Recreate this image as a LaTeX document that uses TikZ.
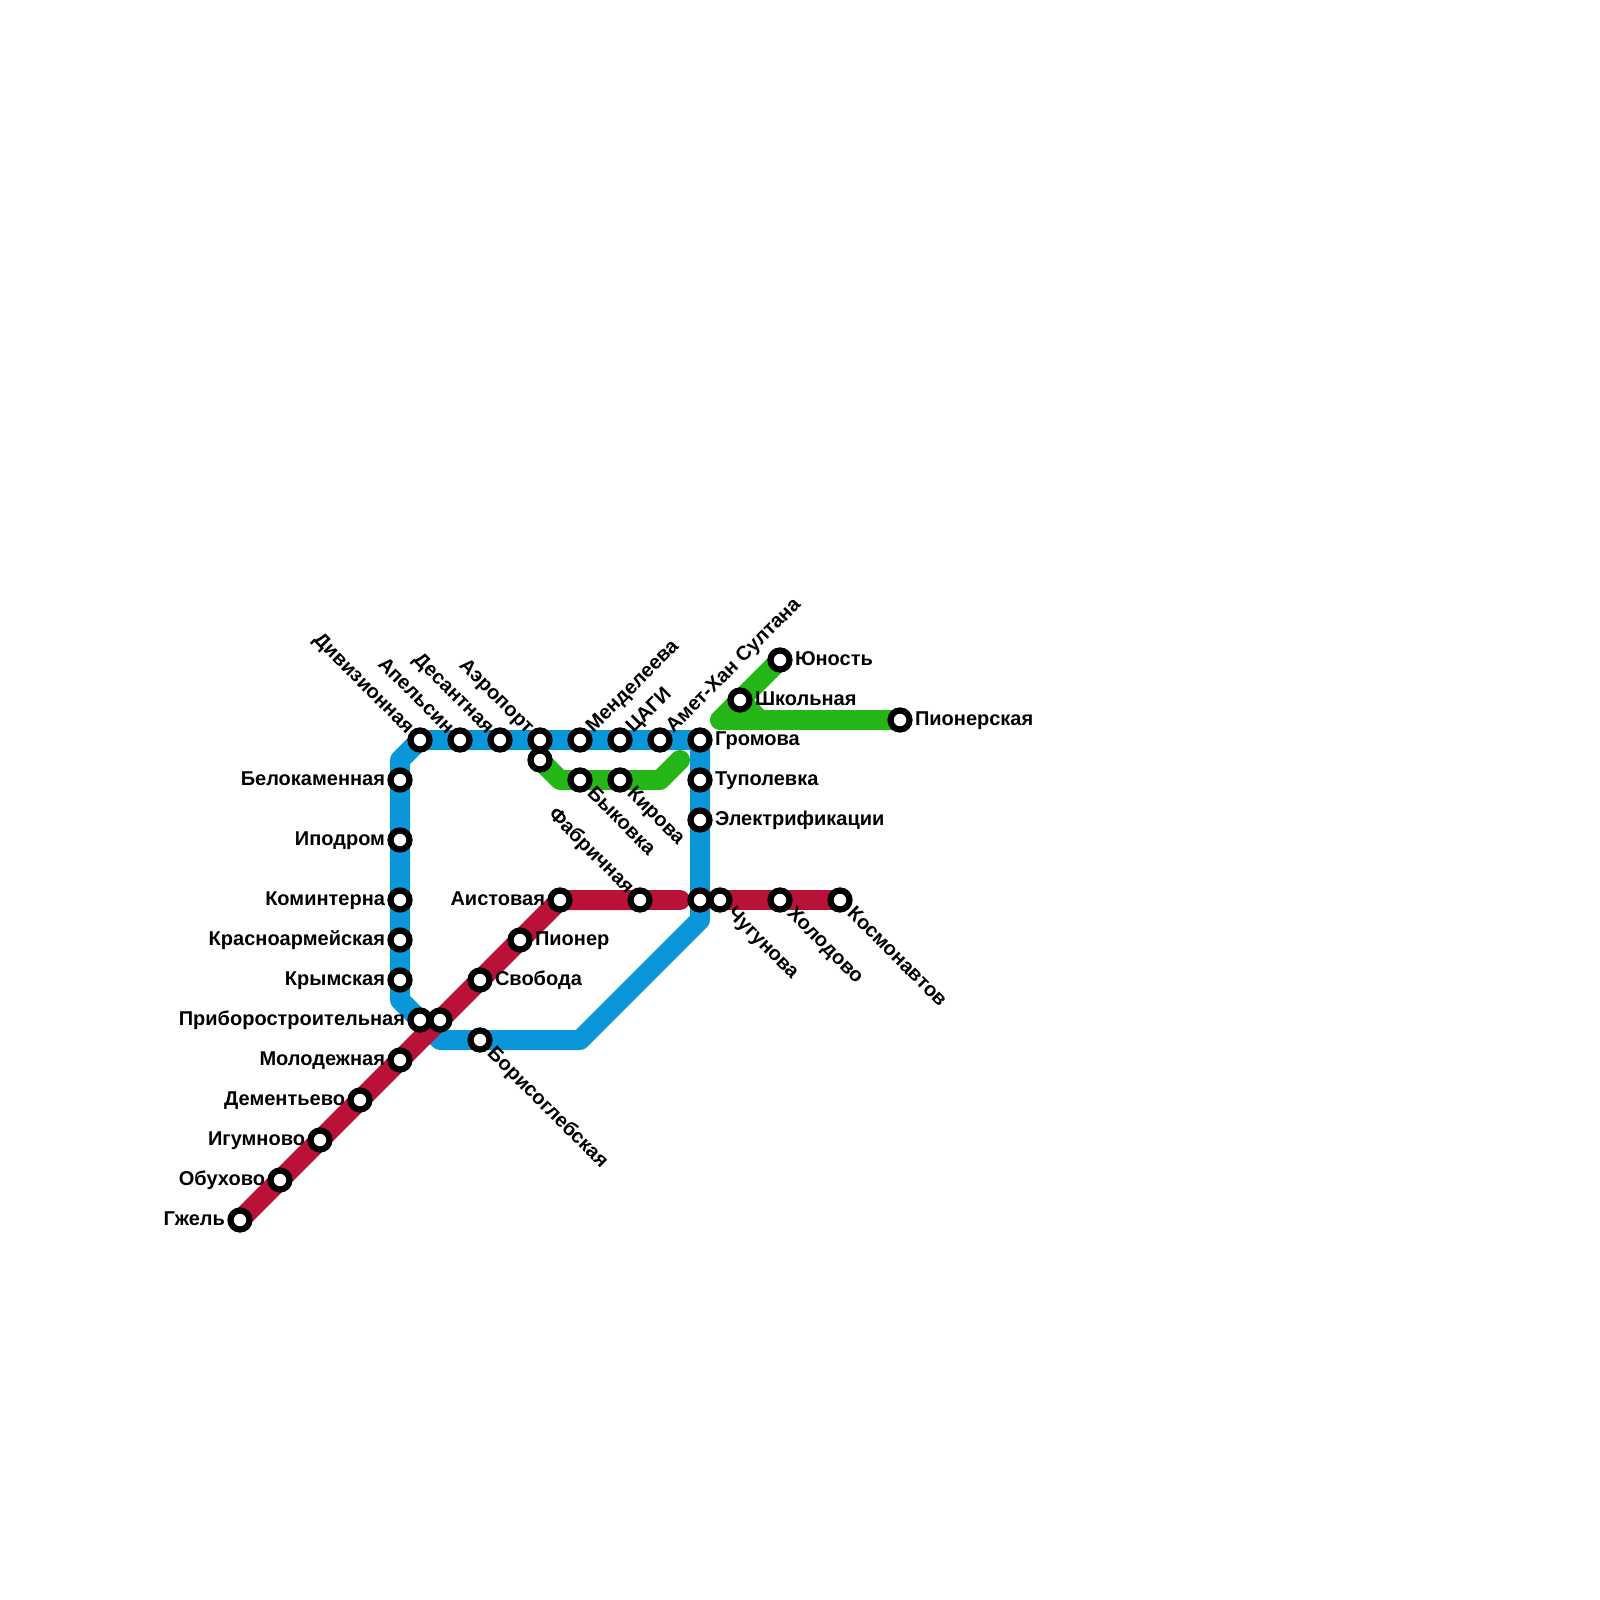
\documentclass[tikz,border=0pt]{standalone}
\usepackage{fontspec}
\setmainfont{Liberation Sans}
\usepackage{tikz}
\usetikzlibrary{backgrounds}
\definecolor{lineblue}{HTML}{0A96D8}
\definecolor{linered}{HTML}{BA1138}
\definecolor{linegreen}{HTML}{25B718}

\begin{document}
\begin{tikzpicture}[x=0.01cm, y=-0.01cm,
    station/.style={circle, draw=black, fill=white, line width=0.062cm, inner sep=0pt, outer sep=0pt, minimum size=0.19cm},
    txt/.style={inner sep=0pt, outer sep=0pt, text height=4.07pt, text depth=1.2pt, font=\fontsize{5.69pt}{6pt}\selectfont\bfseries, text=black},
    tube/.style={line width=0.2cm, line join=round}]
\useasboundingbox (0,0) rectangle (1600,1600);

% top of the blue line
\path (420,740) node[station] (divizionnaya) {};
\path (460,740) node[station] (apelsin) {};
\path (500,740) node[station] (desantnaya) {};
\path (540,740) node[station] (aeroport) {};
\path (580,740) node[station] (mendeleeva) {};
\path (620,740) node[station] (cagi) {};
\path (660,740) node[station] (amethan) {};
\path (700,740) node[station] (gromova) {};
\path (700,780) node[station] (tupolevka) {};
\path (700,820) node[station] (elektro) {};
\path (700,900) node[station] (hubeast) {};

% left of the blue line
\path (400,780) node[station] (belokamennaya) {};
\path (400,840) node[station] (ipodrom) {};
\path (400,900) node[station] (kominterna) {};
\path (400,940) node[station] (krasnoarm) {};
\path (400,980) node[station] (krymskaya) {};
\path (420,1020) node[station] (pribor) {};
\path (480,1040) node[station] (borisogleb) {};

% red line
\path (240,1220) node[station] (gzhel) {};
\path (280,1180) node[station] (obuhovo) {};
\path (320,1140) node[station] (igumnovo) {};
\path (360,1100) node[station] (dementevo) {};
\path (400,1060) node[station] (molodezhnaya) {};
\path (440,1020) node[station] (hubwest) {};
\path (480,980) node[station] (svoboda) {};
\path (520,940) node[station] (pioner) {};
\path (560,900) node[station] (aistovaya) {};
\path (640,900) node[station] (fabrichnaya) {};
\path (720,900) node[station] (chugunova) {};
\path (780,900) node[station] (holodovo) {};
\path (840,900) node[station] (kosmonavtov) {};

% green line
\path (540,760) node[station] (hubnorth) {};
\path (580,780) node[station] (bykovka) {};
\path (620,780) node[station] (kirova) {};
\path (780,660) node[station] (yunost) {};
\path (740,700) node[station] (shkolnaya) {};
\path (900,720) node[station] (pionerskaya) {};

% bends
\coordinate (blue a) at (400,760);
\coordinate (blue b) at (400,1000);
\coordinate (blue c) at (440,1040);
\coordinate (blue d) at (580,1040);
\coordinate (blue e) at (700,920);
\coordinate (green a) at (560,780);
\coordinate (green b) at (660,780);
\coordinate (green c) at (680,760);
\coordinate (green d) at (720,720);
\coordinate (green e) at (760,720);
\coordinate (red a) at (680,900);

\begin{pgfonlayer}{background}
\draw[tube, lineblue] (gromova.center) -- (divizionnaya.center) -- (blue a) -- (blue b) -- (blue c) -- (blue d) -- (blue e) -- cycle;
\draw[tube, linegreen, line cap=round] (hubnorth.center) -- (green a) -- (green b) -- (green c);
\draw[tube, linegreen] (yunost.center) -- (green d) -- (pionerskaya.center);
\draw[tube, linegreen] (shkolnaya.center) -- (green e);
\draw[tube, linered] (gzhel.center) -- (aistovaya.center) -- (fabrichnaya.center);
\draw[tube, linered, line cap=round] (fabrichnaya.center) -- (red a);
\draw[tube, linered] (chugunova.center) -- (kosmonavtov.center);
\end{pgfonlayer}

% labels to the left
\path (385,780) node[txt, anchor=east] (belokamennaya text) {Белокаменная};
\path (385,840) node[txt, anchor=east] (ipodrom text) {Иподром};
\path (385,900) node[txt, anchor=east] (kominterna text) {Коминтерна};
\path (385,940) node[txt, anchor=east] (krasnoarm text) {Красноармейская};
\path (385,980) node[txt, anchor=east] (krymskaya text) {Крымская};
\path (405,1020) node[txt, anchor=east] (pribor text) {Приборостроительная};
\path (385,1060) node[txt, anchor=east] (molodezhnaya text) {Молодежная};
\path (345,1100) node[txt, anchor=east] (dementevo text) {Дементьево};
\path (305,1140) node[txt, anchor=east] (igumnovo text) {Игумново};
\path (265,1180) node[txt, anchor=east] (obuhovo text) {Обухово};
\path (225,1220) node[txt, anchor=east] (gzhel text) {Гжель};
\path (545,900) node[txt, anchor=east] (aistovaya text) {Аистовая};

% labels to the right
\path (715,740) node[txt, anchor=west] (gromova text) {Громова};
\path (715,780) node[txt, anchor=west] (tupolevka text) {Туполевка};
\path (715,820) node[txt, anchor=west] (elektro text) {Электрификации};
\path (795,660) node[txt, anchor=west] (yunost text) {Юность};
\path (755,700) node[txt, anchor=west] (shkolnaya text) {Школьная};
\path (915,720) node[txt, anchor=west] (pionerskaya text) {Пионерская};
\path (535,940) node[txt, anchor=west] (pioner text) {Пионер};
\path (495,980) node[txt, anchor=west] (svoboda text) {Свобода};

% slanted up and to the left
\path (410,731) node[txt, rotate=-45, anchor=east] (divizionnaya text) {Дивизионная};
\path (450,731) node[txt, rotate=-45, anchor=east] (apelsin text) {Апельсин};
\path (490,731) node[txt, rotate=-45, anchor=east] (desantnaya text) {Десантная};
\path (530,731) node[txt, rotate=-45, anchor=east] (aeroport text) {Аэропорт};
\path (630,891) node[txt, rotate=-45, anchor=east] (fabrichnaya text) {Фабричная};

% slanted up and to the right
\path (590,730) node[txt, rotate=45, anchor=west] (mendeleeva text) {Менделеева};
\path (630,730) node[txt, rotate=45, anchor=west] (cagi text) {ЦАГИ};
\path (670,730) node[txt, rotate=45, anchor=west] (amethan text) {Амет-Хан Султана};

% slanted down and to the right
\path (590,791) node[txt, rotate=-45, anchor=west] (bykovka text) {Быковка};
\path (630,791) node[txt, rotate=-45, anchor=west] (kirova text) {Кирова};
\path (490,1051) node[txt, rotate=-45, anchor=west] (borisogleb text) {Борисоглебская};
\path (730,911) node[txt, rotate=-45, anchor=west] (chugunova text) {Чугунова};
\path (790,911) node[txt, rotate=-45, anchor=west] (holodovo text) {Холодово};
\path (850,911) node[txt, rotate=-45, anchor=west] (kosmonavtov text) {Космонавтов};
\end{tikzpicture}
\end{document}
